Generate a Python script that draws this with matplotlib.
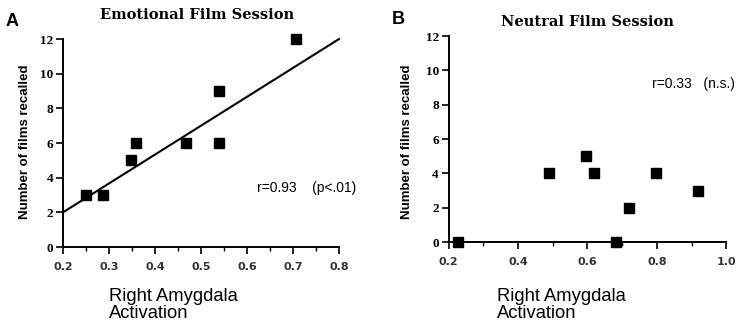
import matplotlib
matplotlib.use("Agg")
import matplotlib.pyplot as plt
from matplotlib.ticker import MultipleLocator

# ----------------------------
# Data
# ----------------------------
emo_x = [0.249, 0.287, 0.347, 0.359, 0.467, 0.538, 0.538, 0.706]
emo_y = [3, 3, 5, 6, 6, 9, 6, 12]
fit_x = [0.2, 0.8]
fit_y = [2.0, 12.0]

neu_x = [0.227, 0.489, 0.597, 0.619, 0.682, 0.720, 0.798, 0.920]
neu_y = [0, 4, 5, 4, 0, 2, 4, 3]

y_ticks = [0, 2, 4, 6, 8, 10, 12]
emo_xticks = [0.2, 0.3, 0.4, 0.5, 0.6, 0.7, 0.8]
neu_xticks = [0.2, 0.4, 0.6, 0.8, 1.0]

sans = "Liberation Sans"
serif = "Liberation Serif"
W, H = 738, 325

fig = plt.figure(figsize=(7.38, 3.25), dpi=100)
axA = fig.add_axes([0.0854, 0.240, 0.374, 0.640])
axB = fig.add_axes([0.608, 0.255, 0.376, 0.634])


def style(ax, xlim, xticks, minor):
    for s in ("top", "right"):
        ax.spines[s].set_visible(False)
    for s in ("left", "bottom"):
        ax.spines[s].set_linewidth(1.4)
    ax.set_xlim(*xlim)
    ax.set_ylim(0, 12)
    ax.set_xticks(xticks)
    ax.xaxis.set_minor_locator(MultipleLocator(minor))
    ax.set_yticks(y_ticks)
    ax.tick_params(axis="both", which="major", direction="out", length=5, width=1.2)
    ax.tick_params(axis="x", which="minor", direction="out", length=3, width=1.0)
    ax.tick_params(axis="x", pad=6)
    ax.tick_params(axis="y", pad=2)
    for lab in ax.get_xticklabels():
        lab.set_fontfamily("DejaVu Sans")
        lab.set_fontweight("bold")
        lab.set_fontsize(8)
        lab.set_color("#333333")
    for lab in ax.get_yticklabels():
        lab.set_fontfamily(serif)
        lab.set_fontweight("bold")
        lab.set_fontsize(9.5)


def px(x, y):
    return x / W, 1 - y / H


# Panel A
style(axA, (0.2, 0.8), emo_xticks, 0.05)
axA.plot(fit_x, fit_y, color="black", lw=1.5, clip_on=False)
axA.plot(emo_x, emo_y, "s", color="black", ms=7, clip_on=False)
axA.text(0.622, 3.4, "r=0.93    (p<.01)", fontfamily=sans, fontsize=10,
         va="center", clip_on=False)

# Panel B
style(axB, (0.2, 1.0), neu_xticks, 0.1)
axB.plot(neu_x, neu_y, "s", color="black", ms=7, clip_on=False)
axB.text(0.786, 9.2, "r=0.33   (n.s.)", fontfamily=sans, fontsize=10,
         va="center", clip_on=False)

# Titles, panel letters, axis labels
fig.text(*px(197.5, 15), "Emotional Film Session", fontfamily="DejaVu Serif",
         fontweight="bold", fontsize=10.5, ha="center", va="center")
fig.text(*px(587.5, 22.5), "Neutral Film Session", fontfamily="DejaVu Serif",
         fontweight="bold", fontsize=10.5, ha="center", va="center")
fig.text(*px(6, 21), "A", fontfamily=sans, fontweight="bold",
         fontsize=13, va="center")
fig.text(*px(392, 20), "B", fontfamily=sans, fontweight="bold",
         fontsize=13, va="center")
for xpix, ypix in ((25, 142), (407, 142)):
    fig.text(*px(xpix, ypix), "Number of films recalled", fontfamily=sans,
             fontweight="bold", fontsize=9.5, rotation=90,
             ha="center", va="center")
for xpix in (109, 497):
    fig.text(*px(xpix, 305), "Right Amygdala\nActivation",
             fontfamily=sans, fontsize=13.2, va="center", ha="left",
             linespacing=1.05)

fig.savefig("out.png", dpi=100)
